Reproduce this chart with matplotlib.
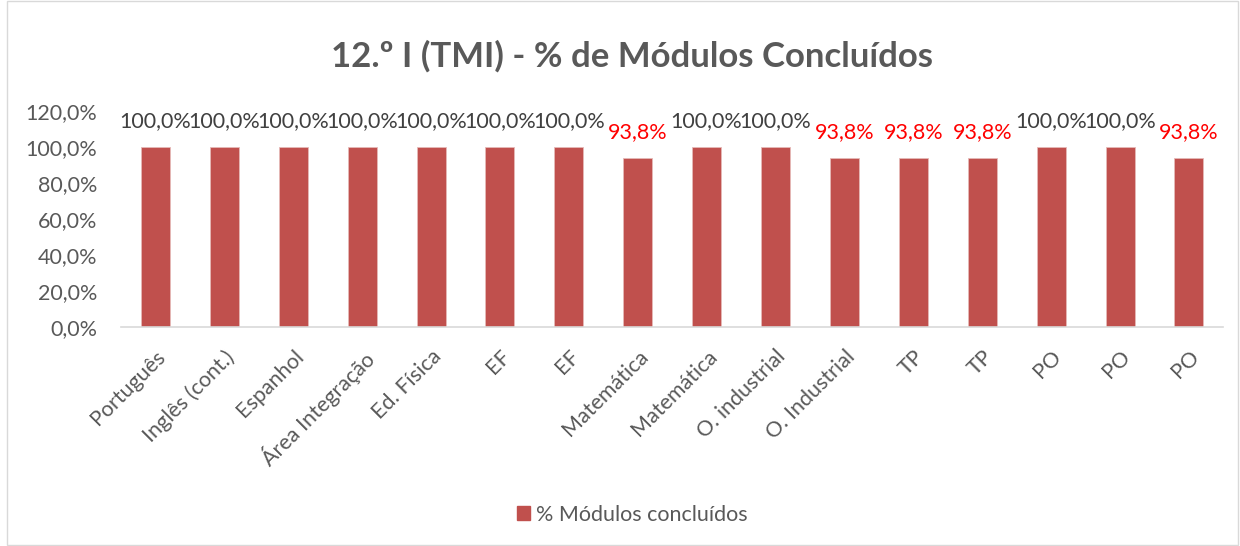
import matplotlib

matplotlib.use("Agg")
import matplotlib.pyplot as plt
from matplotlib.patches import Rectangle

plt.rcParams["font.family"] = ["Lato", "DejaVu Sans"]

SUBJECTS = [
    "Português", "Inglês (cont.)", "Espanhol", "Área Integração", "Ed. Física",
    "EF", "EF", "Matemática", "Matemática", "O. industrial", "O. Industrial",
    "TP", "TP", "PO", "PO", "PO",
]
COMPLETED = [100.0, 100.0, 100.0, 100.0, 100.0, 100.0, 100.0, 93.8,
             100.0, 100.0, 93.8, 93.8, 93.8, 100.0, 100.0, 93.8]
Y_TICKS = [0, 20, 40, 60, 80, 100, 120]

BAR = "#c0504d"
TEXT = "#595959"
FS = 15.5


def pct(v):
    return f"{v:.1f}%".replace(".", ",")


fig = plt.figure(figsize=(12.4, 5.46), dpi=100)
fig.patches.append(Rectangle((0.006, 0.002), 0.992, 0.996, transform=fig.transFigure,
                             fill=False, edgecolor="#d9d9d9", lw=1))
ax = fig.add_axes([0.0976, 0.401, 0.889, 0.396])

x = range(len(SUBJECTS))
ax.bar(x, COMPLETED, width=0.42, color=BAR, edgecolor="#e6b9b8", linewidth=0.6)

for xi, v in zip(x, COMPLETED):
    color = "#404040" if v >= 100 else "#ff0000"
    ax.text(xi, v + 9, pct(v), ha="center", va="bottom", fontsize=FS, color=color)

ax.set_xlim(-0.5, len(SUBJECTS) - 0.5)
ax.set_ylim(0, 120)
ax.set_yticks(Y_TICKS)
ax.set_yticklabels([pct(t) for t in Y_TICKS], fontsize=FS, color=TEXT)
ax.set_xticks(list(x))
ax.set_xticklabels(SUBJECTS, rotation=45, ha="right", rotation_mode="anchor",
                   fontsize=FS, color=TEXT)
ax.tick_params(axis="y", length=0, pad=17)
ax.tick_params(axis="x", length=0, pad=14)
for side in ("top", "right", "left"):
    ax.spines[side].set_visible(False)
ax.spines["bottom"].set_color("#d9d9d9")
ax.spines["bottom"].set_linewidth(1.2)

fig.text(0.51, 0.897, "12.º I (TMI) - % de Módulos Concluídos", ha="center", va="center",
         fontsize=25, fontweight="bold", color=TEXT)

fig.legend(handles=[Rectangle((0, 0), 1, 1, color=BAR)], labels=["% Módulos concluídos"],
           loc="center", bbox_to_anchor=(0.51, 0.057), frameon=False, fontsize=FS,
           labelcolor=TEXT, handlelength=0.6, handleheight=0.6, handletextpad=0.3)

fig.savefig("out.png", dpi=100)
